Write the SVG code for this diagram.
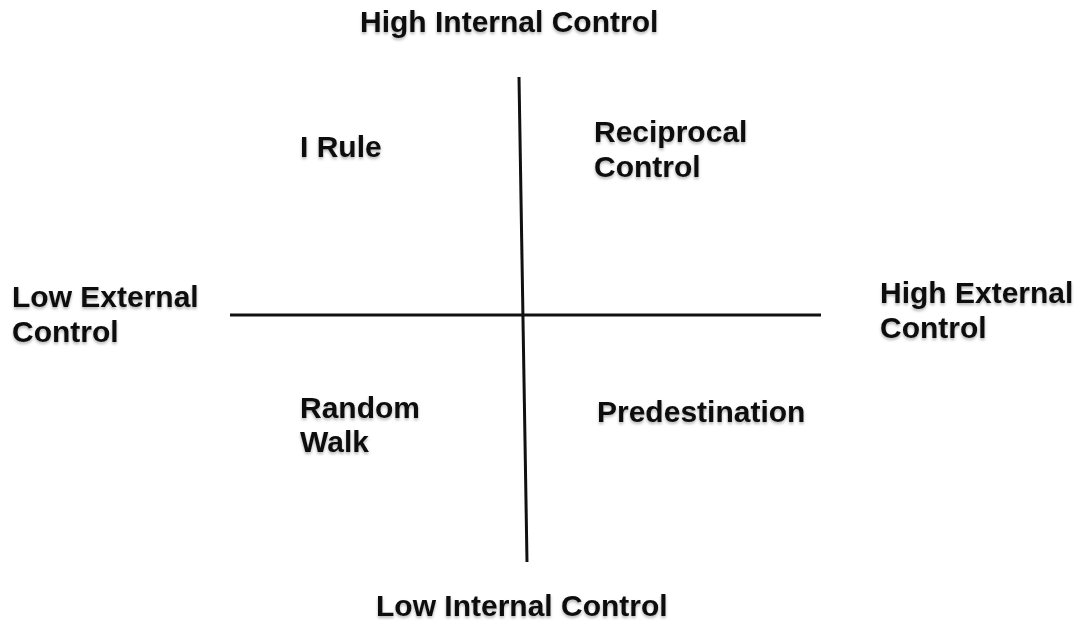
<svg xmlns="http://www.w3.org/2000/svg" width="1077" height="620" viewBox="0 0 1077 620">
<defs>
<filter id="sh" x="-10%" y="-20%" width="120%" height="150%">
<feDropShadow dx="0" dy="2" stdDeviation="1.5" flood-color="#000" flood-opacity="0.3"/>
</filter>
<style>
.t{font-family:"Liberation Sans",Arial,sans-serif;font-weight:bold;font-size:30px;fill:#111;filter:url(#sh)}
.ax{stroke:#111;stroke-width:3;fill:none;stroke-linecap:butt}
</style>
</defs>
<rect width="1077" height="620" fill="#fff"/>
<g id="connectors">
<line class="ax" x1="519" y1="77" x2="527" y2="562"/>
<line class="ax" x1="230" y1="315" x2="821" y2="315"/>
</g>
<g id="high-internal"><text class="t" x="360" y="32">High Internal Control</text></g>
<g id="low-internal"><text class="t" x="376" y="616">Low Internal Control</text></g>
<g id="low-external"><text class="t" x="12" y="307">Low External</text><text class="t" x="12" y="342">Control</text></g>
<g id="high-external"><text class="t" x="880" y="303">High External</text><text class="t" x="880" y="338">Control</text></g>
<g id="i-rule"><text class="t" x="300" y="157">I Rule</text></g>
<g id="reciprocal"><text class="t" x="594" y="142">Reciprocal</text><text class="t" x="594" y="177">Control</text></g>
<g id="random-walk"><text class="t" x="300" y="418">Random</text><text class="t" x="300" y="452">Walk</text></g>
<g id="predestination"><text class="t" x="597" y="422">Predestination</text></g>
</svg>
